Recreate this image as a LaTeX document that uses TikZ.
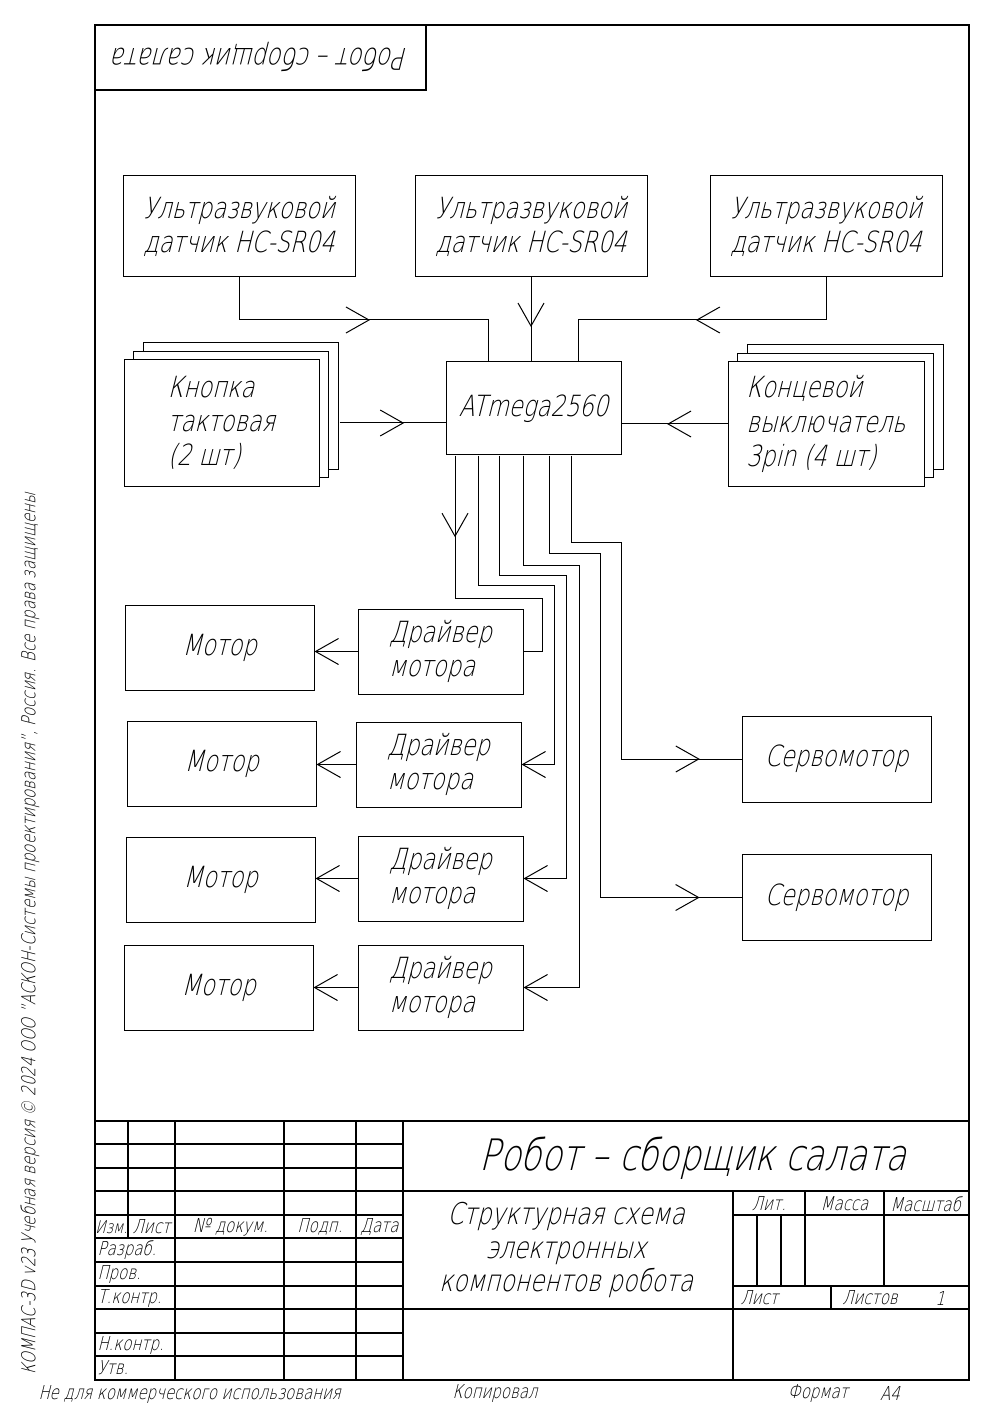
\documentclass[tikz,border=0pt]{standalone}
\usepackage{fontspec}
\setmainfont{DejaVu Sans ExtraLight}[FakeSlant=0.25,FakeStretch=0.78]
\usetikzlibrary{positioning,arrows.meta,calc,shadows,decorations.markings}

\begin{document}
\begin{tikzpicture}[x=0.6pt,y=-0.6pt,line width=0.6pt,
    >={Straight Barb[length=13.8pt,width=15.6pt]},
    blk/.style 2 args={draw,fill=white,minimum width=#1*0.6pt,minimum height=#2*0.6pt,
        inner sep=0pt,align=left,font=\fontsize{17.5}{20.5}\selectfont},
    pile/.style={copy shadow={shadow xshift=11.4pt,shadow yshift=10.2pt,draw,fill=white},
        copy shadow={shadow xshift=5.7pt,shadow yshift=5.1pt,draw,fill=white}},
    mid/.style={postaction={decorate},decoration={markings,mark=at position #1 with {\arrow{>}}}},
    frm/.style={line width=0.8pt},
    cell/.style={font=\fontsize{11.5}{12}\selectfont,inner sep=0pt}]
\useasboundingbox (0,0) rectangle (994,1407);

% sheet frame
\draw[frm] (95,25) rectangle (969,1380);
\draw[frm] (95,25) rectangle (426,90);
\node[rotate=180,font=\fontsize{18}{18}\selectfont] (hdr) at (260.5,57.5) {Робот – сборщик салата};

% sensors
\node[blk={232}{101}] (us1) at (239,226.5) {Ультразвуковой\\датчик HC-SR04};
\node[blk={232}{101}] (us2) at (531,226.5) {Ультразвуковой\\датчик HC-SR04};
\node[blk={232}{101}] (us3) at (826,226.5) {Ультразвуковой\\датчик HC-SR04};

% controller and inputs
\node[blk={175}{93}] (mcu) at (533.5,408.5) {ATmega2560};
\node[blk={195}{126},pile] (btn) at (221.5,423) {Кнопка\\тактовая\\(2 шт)};
\node[blk={196}{124},pile] (lim) at (826,424) {Концевой\\выключатель\\3pin (4 шт)};

% drivers and motors
\node[blk={165}{85}] (drv1) at (440.5,651.5) {Драйвер\\мотора};
\node[blk={165}{85}] (drv2) at (438.5,764.5) {Драйвер\\мотора};
\node[blk={165}{85}] (drv3) at (440.5,878.5) {Драйвер\\мотора};
\node[blk={165}{85}] (drv4) at (440.5,987.5) {Драйвер\\мотора};
\node[blk={189}{85}] (mot1) at (219.5,647.5) {Мотор};
\node[blk={189}{85}] (mot2) at (221.5,763.5) {Мотор};
\node[blk={189}{85}] (mot3) at (220.5,879.5) {Мотор};
\node[blk={189}{85}] (mot4) at (218.5,987.5) {Мотор};

% servos
\node[blk={189}{86}] (srv1) at (836.5,759) {Сервомотор};
\node[blk={189}{86}] (srv2) at (836.5,897.5) {Сервомотор};

\coordinate (j1) at (488,320);
\coordinate (j3) at (578,320);

% links to controller
\draw[mid=.521] (us1.south) |- (j1) -- (j1 |- mcu.north);
\draw[mid=.59] (us2.south) -- (us2.south |- mcu.north);
\draw[mid=.52] (us3.south) |- (j3) -- (j3 |- mcu.north);
\draw[mid=.61] ($(btn.east)+(20,0)$) -- (mcu.west |- btn.east);
\draw[mid=.57] (lim.west) -- (mcu.east |- lim.west);

% links from controller
\draw[mid=.271] (455,0 |- mcu.south) |- (542,598) |- (drv1.east);
\draw[->] (478,0 |- mcu.south) |- (554,585) |- (drv2.east);
\draw[->] (499,0 |- mcu.south) |- (566,575) |- (drv3.east);
\draw[->] (523,0 |- mcu.south) |- (579,565) |- (drv4.east);
\draw[mid=.934] (549,0 |- mcu.south) |- (600,553) |- (srv2.west);
\draw[mid=.912] (571,0 |- mcu.south) |- (621,542) |- (srv1.west);

\foreach \i in {1,...,4}
    \draw[->] (drv\i.west) -- (drv\i.west -| mot\i.east);

% title block
\draw[frm] (95,1121) -- (969,1121);
\foreach \y in {1144,1168,1191,1215,1238,1262,1286,1309,1333,1356}
    \draw[frm] (95,\y) -- (403,\y);
\draw[frm] (403,1191) -- (969,1191);
\draw[frm] (403,1309) -- (969,1309);
\draw[frm] (733,1215) -- (969,1215);
\draw[frm] (733,1286) -- (969,1286);
\foreach \x in {175,284,356,403}
    \draw[frm] (\x,1121) -- (\x,1380);
\draw[frm] (128,1121) -- (128,1238);
\draw[frm] (733,1191) -- (733,1380);
\draw[frm] (757,1215) -- (757,1286);
\draw[frm] (781,1215) -- (781,1286);
\draw[frm] (805,1191) -- (805,1286);
\draw[frm] (884,1191) -- (884,1286);
\draw[frm] (831,1286) -- (831,1309);

\node[cell,font=\fontsize{10.5}{11}\selectfont] (izm) at (111.5,1227) {Изм.};
\node[cell] (lst) at (151.5,1227) {Лист};
\node[cell] (ndoc) at (230.5,1227) {№ докум.};
\node[cell] (podp) at (320,1227) {Подп.};
\node[cell] (data) at (379.5,1227) {Дата};
\node[cell,anchor=west] (razr) at (97,1250) {Разраб.};
\node[cell,anchor=west] (prov) at (97,1274) {Пров.};
\node[cell,anchor=west] (tkon) at (97,1298) {Т.контр.};
\node[cell,anchor=west] (nkon) at (97,1345) {Н.контр.};
\node[cell,anchor=west] (utv) at (97,1368) {Утв.};
\node[font=\fontsize{26}{26}\selectfont] (ttl) at (693,1158) {Робот – сборщик салата};
\node[font=\fontsize{18}{20}\selectfont,align=center] (sub) at (566,1250)
    {Структурная схема\\электронных\\компонентов робота};
\node[cell] (lit) at (769,1204) {Лит.};
\node[cell] (mass) at (844.5,1204) {Масса};
\node[cell] (msht) at (925.5,1204) {Масштаб};
\node[cell,anchor=west] (list) at (740,1298) {Лист};
\node[cell] (lstv) at (870,1298) {Листов};
\node[cell] (nlst) at (940,1298) {1};

% margins
\node[rotate=90,font=\fontsize{11.5}{11.5}\selectfont] (lic) at (30,934)
    {КОМПАС-3D v23 Учебная версия © 2024 ООО "АСКОН-Системы проектирования", Россия. Все права защищены};
\node[cell,anchor=west] (ncom) at (38,1394) {Не для коммерческого использования};
\node[cell] (kop) at (495,1393) {Копировал};
\node[cell] (fmt) at (818,1393) {Формат};
\node[cell] (afmt) at (890,1393) {А4};
\end{tikzpicture}
\end{document}
